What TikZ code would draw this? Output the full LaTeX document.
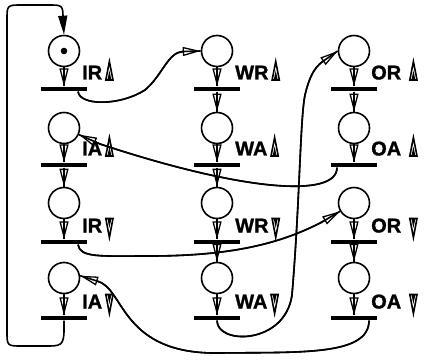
\documentclass[tikz,border=0pt]{standalone}
\usepackage{fontspec}
\setmainfont{Liberation Sans}
\newfontfamily\lblfont{Liberation Sans Bold}[FakeBold=1.2]
\usetikzlibrary{arrows.meta}
\begin{document}
\begin{tikzpicture}[x=1pt,y=-1pt,
  place/.style={circle,draw,line width=1.6pt,minimum size=31pt,inner sep=0pt},
  trans/.style={fill=black,minimum width=46pt,minimum height=4.8pt,inner sep=0pt},
  lbl/.style={anchor=base west,inner sep=0pt,font=\lblfont\fontsize{20}{20}\selectfont},
  arc/.style={line width=1.6pt},
  oarr/.style={arc,-{Triangle[open,length=18pt,width=9pt,line width=1.3pt]},postaction={draw,arc,arrows=-}},
  farr/.style={arc,-{Triangle[length=19pt,width=9pt]}},
  upg/.pic={\draw[line width=1.6pt,line join=miter] (-3.6,0.5) -- (0,-18) -- (3.6,0.5) -- cycle;
            \fill (-2,0.5) -- (0,-9) -- (2,0.5) -- cycle;},
  dng/.pic={\draw[line width=1.6pt,line join=miter] (-3.6,-14) -- (0,5) -- (3.6,-14) -- cycle;
            \fill (-2,-14) -- (0,-4.5) -- (2,-14) -- cycle;}
]
\useasboundingbox (0,0) rectangle (427,363);
% places
\node[place] (pIRu) at (64,51) {};
\node[place] (pIAu) at (64,128) {};
\node[place] (pIRd) at (64,203) {};
\node[place] (pIAd) at (64,278) {};
\node[place] (pWRu) at (217,51) {};
\node[place] (pWAu) at (217,128) {};
\node[place] (pWRd) at (217,203) {};
\node[place] (pWAd) at (217,278) {};
\node[place] (pORu) at (354,51) {};
\node[place] (pOAu) at (354,128) {};
\node[place] (pORd) at (354,203) {};
\node[place] (pOAd) at (354,278) {};
\fill (pIRu.center) circle (3.3);
% transitions
\node[trans] (tIRu) at (64,89) {};
\node[trans] (tIAu) at (64,165) {};
\node[trans] (tIRd) at (64,242) {};
\node[trans] (tIAd) at (64,318) {};
\node[trans] (tWRu) at (217,89) {};
\node[trans] (tWAu) at (217,165) {};
\node[trans] (tWRd) at (217,242) {};
\node[trans] (tWAd) at (217,318) {};
\node[trans] (tORu) at (354,89) {};
\node[trans] (tOAu) at (354,165) {};
\node[trans] (tORd) at (354,242) {};
\node[trans] (tOAd) at (354,318) {};
% labels
\node[lbl] (lIRu) at (82,79.5) {IR};  \pic at ([xshift=7pt]lIRu.base east) {upg};
\node[lbl] (lIAu) at (82,155.5) {IA}; \pic at ([xshift=7pt]lIAu.base east) {upg};
\node[lbl] (lIRd) at (82,232.5) {IR}; \pic at ([xshift=7pt]lIRd.base east) {dng};
\node[lbl] (lIAd) at (82,308.5) {IA}; \pic at ([xshift=7pt]lIAd.base east) {dng};
\node[lbl] (lWRu) at (235,79.5) {WR};  \pic at ([xshift=7pt]lWRu.base east) {upg};
\node[lbl] (lWAu) at (235,155.5) {WA}; \pic at ([xshift=7pt]lWAu.base east) {upg};
\node[lbl] (lWRd) at (235,232.5) {WR}; \pic at ([xshift=7pt]lWRd.base east) {dng};
\node[lbl] (lWAd) at (235,308.5) {WA}; \pic at ([xshift=7pt]lWAd.base east) {dng};
\node[lbl] (lORu) at (371,79.5) {OR};  \pic at ([xshift=12pt]lORu.base east) {upg};
\node[lbl] (lOAu) at (371,155.5) {OA}; \pic at ([xshift=12pt]lOAu.base east) {upg};
\node[lbl] (lORd) at (371,232.5) {OR}; \pic at ([xshift=12pt]lORd.base east) {dng};
\node[lbl] (lOAd) at (371,308.5) {OA}; \pic at ([xshift=12pt]lOAd.base east) {dng};
% vertical arcs
\draw[oarr] (pIRu) -- (tIRu);
\draw[oarr] (pIAu) -- (tIAu);
\draw[oarr] (tIAu) -- (pIRd);
\draw[oarr] (pIRd) -- (tIRd);
\draw[oarr] (pIAd) -- (tIAd);
\draw[oarr] (pWRu) -- (tWRu);
\draw[oarr] (tWRu) -- (pWAu);
\draw[oarr] (pWAu) -- (tWAu);
\draw[oarr] (tWAu) -- (pWRd);
\draw[oarr] (pWRd) -- (tWRd);
\draw[oarr] (tWRd) -- (pWAd);
\draw[oarr] (pWAd) -- (tWAd);
\draw[oarr] (pORu) -- (tORu);
\draw[oarr] (tORu) -- (pOAu);
\draw[oarr] (pOAu) -- (tOAu);
\draw[oarr] (pORd) -- (tORd);
\draw[oarr] (tORd) -- (pOAd);
\draw[oarr] (pOAd) -- (tOAd);
% long arcs
\draw[farr] (tIAd.south) -- (64,330) .. controls (64,346) and (60,346) .. (46,346) -- (22,346)
  .. controls (7,346) and (7,346) .. (7,331) -- (7,20) .. controls (7,5) and (7,5) .. (22,5)
  -- (48,5) .. controls (63,5) and (63,5) .. (63,20) -- (pIRu.north);
\draw[oarr] ([xshift=14pt]tIRu.south) .. controls (80,106) and (120,106) .. (145,90)
  .. controls (162,76) and (168,52) .. (183,51.5) -- (pWRu.west);
\draw[oarr] ([xshift=-17pt]tOAu.south) .. controls (337,198) and (245,192) .. (100,144) -- (pIAu);
\draw[oarr] ([xshift=14pt]tIRd.south) .. controls (80,258) and (100,256) .. (150,256)
  .. controls (230,256) and (280,244) .. (322,222) -- (pORd);
\draw[oarr] (tWAd.south) .. controls (217,345) and (285,345) .. (292,295)
  .. controls (300,200) and (300,120) .. (305,95) .. controls (309,78) and (314,68) .. (322,62) -- (pORu.west);
\draw[oarr] ([xshift=15pt]tOAd.south) .. controls (369,356) and (300,352) .. (220,353)
  .. controls (120,355) and (125,288) .. (97,281) -- (pIAd.8);
\end{tikzpicture}
\end{document}
